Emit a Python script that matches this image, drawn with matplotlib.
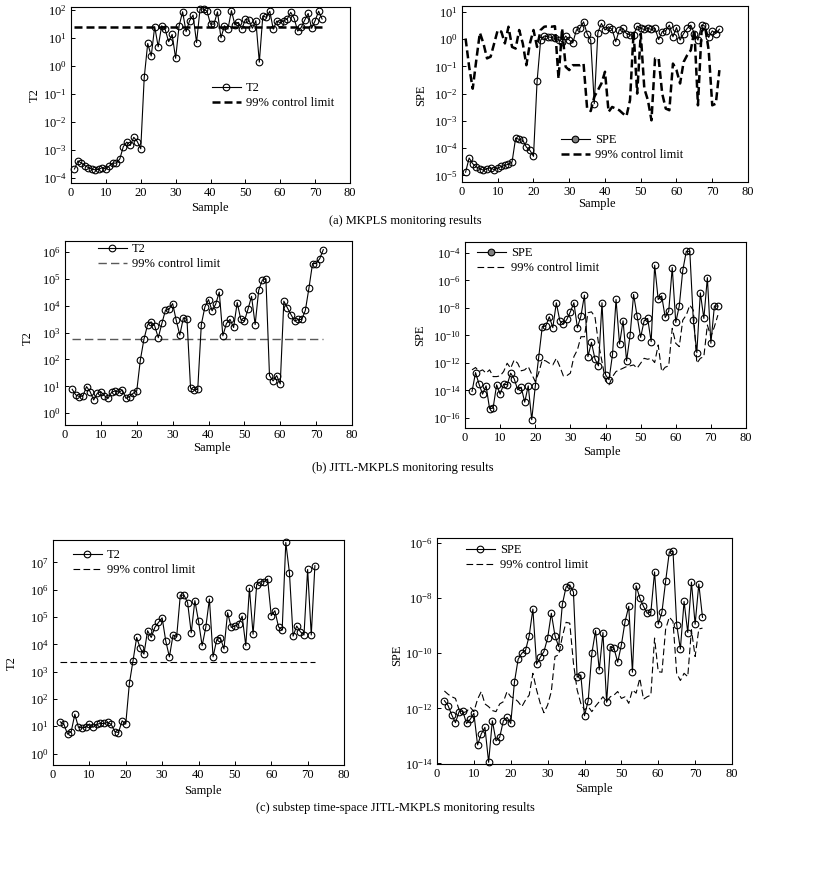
import numpy as np
import matplotlib
matplotlib.use("Agg")
import matplotlib.pyplot as plt
from matplotlib.lines import Line2D
from matplotlib.ticker import FixedLocator, LogFormatterSciNotation, NullLocator

plt.rcParams['font.family'] = ['Liberation Serif', 'DejaVu Serif']
plt.rcParams['mathtext.fontset'] = 'stix'

# ---------------- data (log10 of the plotted values) ----------------
samples_a = list(range(1, 73))
samples_bc = list(range(2, 73))

t2_a_log = [-3.67, -3.38, -3.46, -3.55, -3.62, -3.68, -3.70, -3.68, -3.62, -3.68,
            -3.56, -3.46, -3.46, -3.31, -2.87, -2.71, -2.83, -2.54, -2.69, -2.95,
            -0.40, 0.81, 0.36, 1.41, 0.69, 1.44, 1.31, 0.87, 1.13, 0.28,
            1.44, 1.94, 1.23, 1.62, 1.82, 0.84, 2.04, 2.04, 1.96, 1.50,
            1.50, 1.94, 1.01, 1.44, 1.32, 1.98, 1.47, 1.56, 1.32, 1.67,
            1.64, 1.35, 1.62, 0.14, 1.79, 1.74, 1.96, 1.32, 1.61, 1.55,
            1.62, 1.68, 1.92, 1.70, 1.25, 1.38, 1.64, 1.88, 1.35, 1.62,
            1.96, 1.68]
t2_a_limit_log = 1.38

spe_a_log = [-4.88, -4.36, -4.57, -4.69, -4.75, -4.81, -4.75, -4.72, -4.79, -4.73,
             -4.67, -4.63, -4.59, -4.51, -3.63, -3.68, -3.71, -3.96, -4.08, -4.30,
             -1.55, -0.04, 0.11, 0.08, 0.06, 0.02, -0.02, -0.10, 0.11, -0.04,
             -0.14, 0.33, 0.39, 0.63, 0.20, -0.04, -2.37, 0.23, 0.57, 0.33,
             0.45, 0.35, -0.10, 0.33, 0.39, 0.20, 0.15, 0.15, 0.47, 0.39,
             0.35, 0.39, 0.35, 0.39, -0.02, 0.27, 0.30, 0.51, 0.08, 0.42,
             -0.04, 0.20, 0.39, 0.51, 0.20, -0.04, 0.51, 0.47, 0.06, 0.30,
             0.20, 0.36]
spe_a_limit_log = [0.02, -1.02, -1.82, -0.77, 0.23, -0.16, -0.71, -0.65, -0.16, 0.33,
                   0.27, -0.16, 0.45, -0.29, -0.35, 0.33, -0.16, -0.96, -0.16, 0.33,
                   -0.29, 0.33, 0.45, 0.47, 0.45, 0.47, -1.45, 0.39, -1.02, -1.14,
                   -0.96, -0.96, -0.96, -0.90, -2.55, -2.64, -2.12, -1.88, -1.63, -1.20,
                   -2.67, -2.49, -2.55, -2.61, -2.73, -2.83, -2.24, 0.27, -2.00, 0.20,
                   -1.82, -2.24, -2.98, -0.71, -0.71, -2.00, -2.55, -2.61, -0.90, -1.14,
                   -1.63, -0.84, -0.59, -0.41, 0.33, -2.43, 0.27, 0.45, -0.41, -2.43,
                   -2.37, -1.14]

t2_b_log = [0.89, 0.68, 0.62, 0.64, 0.99, 0.80, 0.49, 0.74, 0.80, 0.65,
            0.55, 0.78, 0.83, 0.78, 0.86, 0.55, 0.62, 0.74, 0.83, 1.98,
            2.75, 3.28, 3.40, 3.25, 2.81, 3.34, 3.83, 3.87, 4.08, 3.46,
            2.91, 3.55, 3.49, 0.93, 0.86, 0.89, 3.30, 3.96, 4.23, 3.81,
            4.06, 4.51, 2.88, 3.34, 3.49, 3.19, 4.12, 3.49, 3.43, 3.87,
            4.35, 3.30, 4.58, 4.95, 5.01, 1.40, 1.20, 1.40, 1.09, 4.17,
            3.92, 3.67, 3.43, 3.49, 3.49, 3.83, 4.66, 5.57, 5.57, 5.75,
            6.09]
t2_b_limit_log = 2.75

spe_b_log = [-14.07, -12.70, -13.54, -14.27, -13.66, -15.33, -15.28, -13.59, -14.27, -13.54,
             -13.59, -12.74, -13.15, -13.95, -13.76, -14.85, -13.66, -16.13, -13.71, -11.54,
             -9.36, -9.31, -8.64, -9.43, -7.62, -8.93, -9.19, -8.83, -8.28, -7.62,
             -9.43, -8.59, -7.07, -11.54, -10.50, -11.71, -12.21, -7.62, -12.86, -13.22,
             -11.37, -7.38, -10.62, -8.93, -11.85, -9.97, -7.02, -8.59, -10.14, -8.93,
             -8.76, -10.45, -4.89, -7.38, -7.12, -8.69, -8.23, -5.06, -9.05, -7.86,
             -5.26, -3.88, -3.88, -8.88, -11.25, -6.90, -8.76, -5.79, -10.57, -7.86,
             -7.86]
spe_b_limit_log = [-12.50, -12.33, -12.62, -12.50, -12.74, -12.50, -12.99, -12.99, -12.94, -12.62,
                   -12.02, -12.38, -11.78, -12.02, -12.57, -12.50, -12.26, -12.82, -13.35, -12.70,
                   -11.78, -11.85, -12.02, -12.14, -11.66, -12.26, -12.94, -12.92, -12.74, -11.54,
                   -11.05, -10.09, -10.09, -8.35, -8.28, -8.64, -10.57, -11.90, -13.30, -13.59,
                   -12.99, -12.62, -12.50, -12.38, -12.26, -12.21, -12.14, -12.38, -12.02, -11.66,
                   -11.73, -11.66, -11.97, -10.69, -12.62, -12.31, -12.21, -9.48, -10.57, -10.81,
                   -8.88, -8.52, -7.79, -8.16, -12.02, -11.66, -11.54, -9.24, -10.09, -9.36,
                   -8.52]

t2_c_log = [1.16, 1.07, 0.71, 0.80, 1.44, 0.96, 0.94, 0.96, 1.08, 0.96,
            1.07, 1.10, 1.10, 1.14, 1.07, 0.80, 0.77, 1.20, 1.08, 2.57,
            3.40, 4.25, 3.85, 3.64, 4.50, 4.25, 4.62, 4.80, 4.97, 4.12,
            3.54, 4.34, 4.28, 5.80, 5.80, 5.53, 4.42, 5.60, 4.85, 3.95,
            4.62, 5.66, 3.54, 4.16, 4.24, 3.83, 5.16, 4.62, 4.67, 4.73,
            5.03, 3.95, 6.05, 4.37, 6.19, 6.29, 6.29, 6.39, 5.05, 5.23,
            4.64, 4.52, 7.73, 6.62, 4.30, 4.67, 4.46, 4.34, 6.74, 4.34,
            6.88]
t2_c_limit_log = 3.36

spe_c_log = [-11.72, -11.90, -12.24, -12.52, -12.12, -12.10, -12.55, -12.40, -12.18, -13.33,
             -12.93, -12.69, -13.96, -12.45, -13.18, -13.05, -12.45, -12.33, -12.55, -11.05,
             -10.22, -10.00, -9.90, -9.37, -8.40, -10.40, -10.15, -9.94, -9.45, -8.55,
             -9.37, -9.76, -8.22, -7.60, -7.52, -7.78, -10.87, -10.79, -12.27, -11.72,
             -10.00, -9.18, -10.61, -9.25, -11.78, -9.76, -9.82, -10.33, -9.70, -8.85,
             -8.30, -10.69, -7.55, -8.00, -8.30, -8.55, -8.51, -7.05, -8.95, -8.51,
             -7.39, -6.33, -6.30, -8.97, -9.85, -8.12, -9.25, -7.42, -8.95, -7.49,
             -8.70]
spe_c_limit_log = [-11.37, -11.49, -11.58, -11.64, -12.06, -12.16, -12.12, -11.96, -12.12, -11.67,
                   -11.39, -11.84, -11.94, -12.08, -12.12, -11.84, -11.76, -11.39, -11.58, -11.64,
                   -11.76, -11.94, -11.70, -11.52, -10.73, -11.33, -11.82, -12.16, -11.88, -11.39,
                   -10.12, -10.06, -9.39, -8.88, -8.91, -10.36, -11.33, -11.82, -12.06, -11.94,
                   -12.12, -11.92, -11.76, -11.58, -11.76, -11.58, -11.52, -11.39, -11.64, -11.58,
                   -11.82, -11.33, -11.45, -10.91, -11.67, -11.58, -11.52, -9.45, -10.67, -10.69,
                   -9.13, -8.69, -8.85, -10.73, -10.99, -10.73, -10.85, -9.15, -10.12, -9.12,
                   -9.09]

x_ticks = [0, 10, 20, 30, 40, 50, 60, 70, 80]
captions = ["(a) MKPLS monitoring results",
            "(b) JITL-MKPLS monitoring results",
            "(c) substep time-space JITL-MKPLS monitoring results"]
legend_main = ["T2", "SPE", "T2", "SPE", "T2", "SPE"]
legend_limit = "99% control limit"

# ---------------- layout ----------------
W, H = 826, 893
fig = plt.figure(figsize=(W / 100, H / 100), dpi=100)

def fx(x):
    return x / W

def fy(y):
    return 1 - y / H

def make_ax(x0, y0, x1, y1):
    return fig.add_axes([fx(x0), fy(y1), fx(x1 - x0), (y1 - y0) / H])

FS = 9

def style(ax, ylim, yexp):
    ax.set_yscale('log')
    ax.set_xlim(0, 80)
    ax.set_ylim(10.0 ** ylim[0], 10.0 ** ylim[1])
    ax.xaxis.set_major_locator(FixedLocator(x_ticks))
    ax.yaxis.set_major_locator(FixedLocator([10.0 ** e for e in yexp]))
    ax.yaxis.set_major_formatter(LogFormatterSciNotation())
    ax.yaxis.set_minor_locator(NullLocator())
    ax.tick_params(direction='in', length=3, width=0.7, labelsize=FS, pad=3)
    for s in ax.spines.values():
        s.set_linewidth(0.8)
        s.set_color('black')

def draw_series(ax, xs, logs, color='black'):
    ax.plot(xs, [10.0 ** v for v in logs], color=color, lw=0.8, marker='o',
            ms=4.8, mfc='none', mec=color, mew=0.8, clip_on=False, zorder=3)

def add_legend(ax, label, x_px, y_px, lim_style, filled=False):
    h1 = Line2D([], [], color='black', lw=0.8, marker='o', ms=4.8,
                mfc=('0.5' if filled else 'none'), mec='black', mew=0.8)
    h2 = Line2D([], [], **lim_style)
    ax.legend([h1, h2], [label, legend_limit], loc='upper left',
              bbox_to_anchor=(fx(x_px), fy(y_px - 8)), bbox_transform=fig.transFigure,
              frameon=False, fontsize=FS, handlelength=2.3, handletextpad=0.4,
              labelspacing=0.25, borderpad=0, borderaxespad=0)

lim_thick = dict(color='black', lw=1.8, ls=(0, (3.2, 1.6)))
lim_thin = dict(color='black', lw=0.8, ls=(0, (6, 3)))
lim_grey = dict(color='0.35', lw=1.0, ls=(0, (6, 3)))

# (a) left
ax = make_ax(71, 7, 350, 183)
style(ax, (-4.17, 2.11), range(-4, 3))
draw_series(ax, samples_a, t2_a_log)
ax.plot([samples_a[0], samples_a[-1]], [10 ** t2_a_limit_log] * 2, **lim_thick, zorder=2)
add_legend(ax, legend_main[0], 212, 90, lim_thick)
fig.text(fx(35), fy(95), "T2", rotation=90, ha='center', va='center', fontsize=FS)
fig.text(fx(210), fy(208), "Sample", ha='center', va='center', fontsize=FS)

# (a) right
ax = make_ax(462, 6, 748, 182)
style(ax, (-5.24, 1.21), range(-5, 2))
ax.plot(samples_a, [10.0 ** v for v in spe_a_limit_log], **lim_thick, zorder=2)
draw_series(ax, samples_a, spe_a_log)
add_legend(ax, legend_main[1], 561, 142, lim_thick, filled=True)
fig.text(fx(421), fy(95), "SPE", rotation=90, ha='center', va='center', fontsize=FS)
fig.text(fx(597), fy(204), "Sample", ha='center', va='center', fontsize=FS)

fig.text(fx(405), fy(221), captions[0], ha='center', va='center', fontsize=FS)

# (b) left
ax = make_ax(65, 241, 352, 425)
style(ax, (-0.44, 6.41), range(0, 7))
ax.plot([samples_bc[0], samples_bc[-1]], [10 ** t2_b_limit_log] * 2, **lim_grey, zorder=2)
draw_series(ax, samples_bc, t2_b_log)
add_legend(ax, legend_main[2], 98, 251, lim_grey)
fig.text(fx(28), fy(338), "T2", rotation=90, ha='center', va='center', fontsize=FS)
fig.text(fx(212), fy(448), "Sample", ha='center', va='center', fontsize=FS)

# (b) right
ax = make_ax(465, 242, 746, 428)
style(ax, (-16.73, -3.20), range(-16, -3, 2))
ax.plot(samples_bc, [10.0 ** v for v in spe_b_limit_log], **lim_thin, zorder=2)
draw_series(ax, samples_bc, spe_b_log)
add_legend(ax, legend_main[3], 477, 255, lim_thin, filled=True)
fig.text(fx(420), fy(335), "SPE", rotation=90, ha='center', va='center', fontsize=FS)
fig.text(fx(602), fy(452), "Sample", ha='center', va='center', fontsize=FS)

fig.text(fx(403), fy(468), captions[1], ha='center', va='center', fontsize=FS)

# (c) left
ax = make_ax(53, 540, 344, 765)
style(ax, (-0.42, 7.82), range(0, 8))
ax.plot([samples_bc[0], samples_bc[-1]], [10 ** t2_c_limit_log] * 2, **lim_thin, zorder=2)
draw_series(ax, samples_bc, t2_c_log)
add_legend(ax, legend_main[4], 73, 557, lim_thin)
fig.text(fx(12), fy(663), "T2", rotation=90, ha='center', va='center', fontsize=FS)
fig.text(fx(203), fy(791), "Sample", ha='center', va='center', fontsize=FS)

# (c) right
ax = make_ax(437, 538, 732, 764)
style(ax, (-14.02, -5.82), range(-14, -5, 2))
ax.plot(samples_bc, [10.0 ** v for v in spe_c_limit_log], **lim_thin, zorder=2)
draw_series(ax, samples_bc, spe_c_log)
add_legend(ax, legend_main[5], 466, 552, lim_thin)
fig.text(fx(397), fy(655), "SPE", rotation=90, ha='center', va='center', fontsize=FS)
fig.text(fx(594), fy(789), "Sample", ha='center', va='center', fontsize=FS)

fig.text(fx(395), fy(808), captions[2], ha='center', va='center', fontsize=FS)

fig.savefig("out.png", dpi=100)
